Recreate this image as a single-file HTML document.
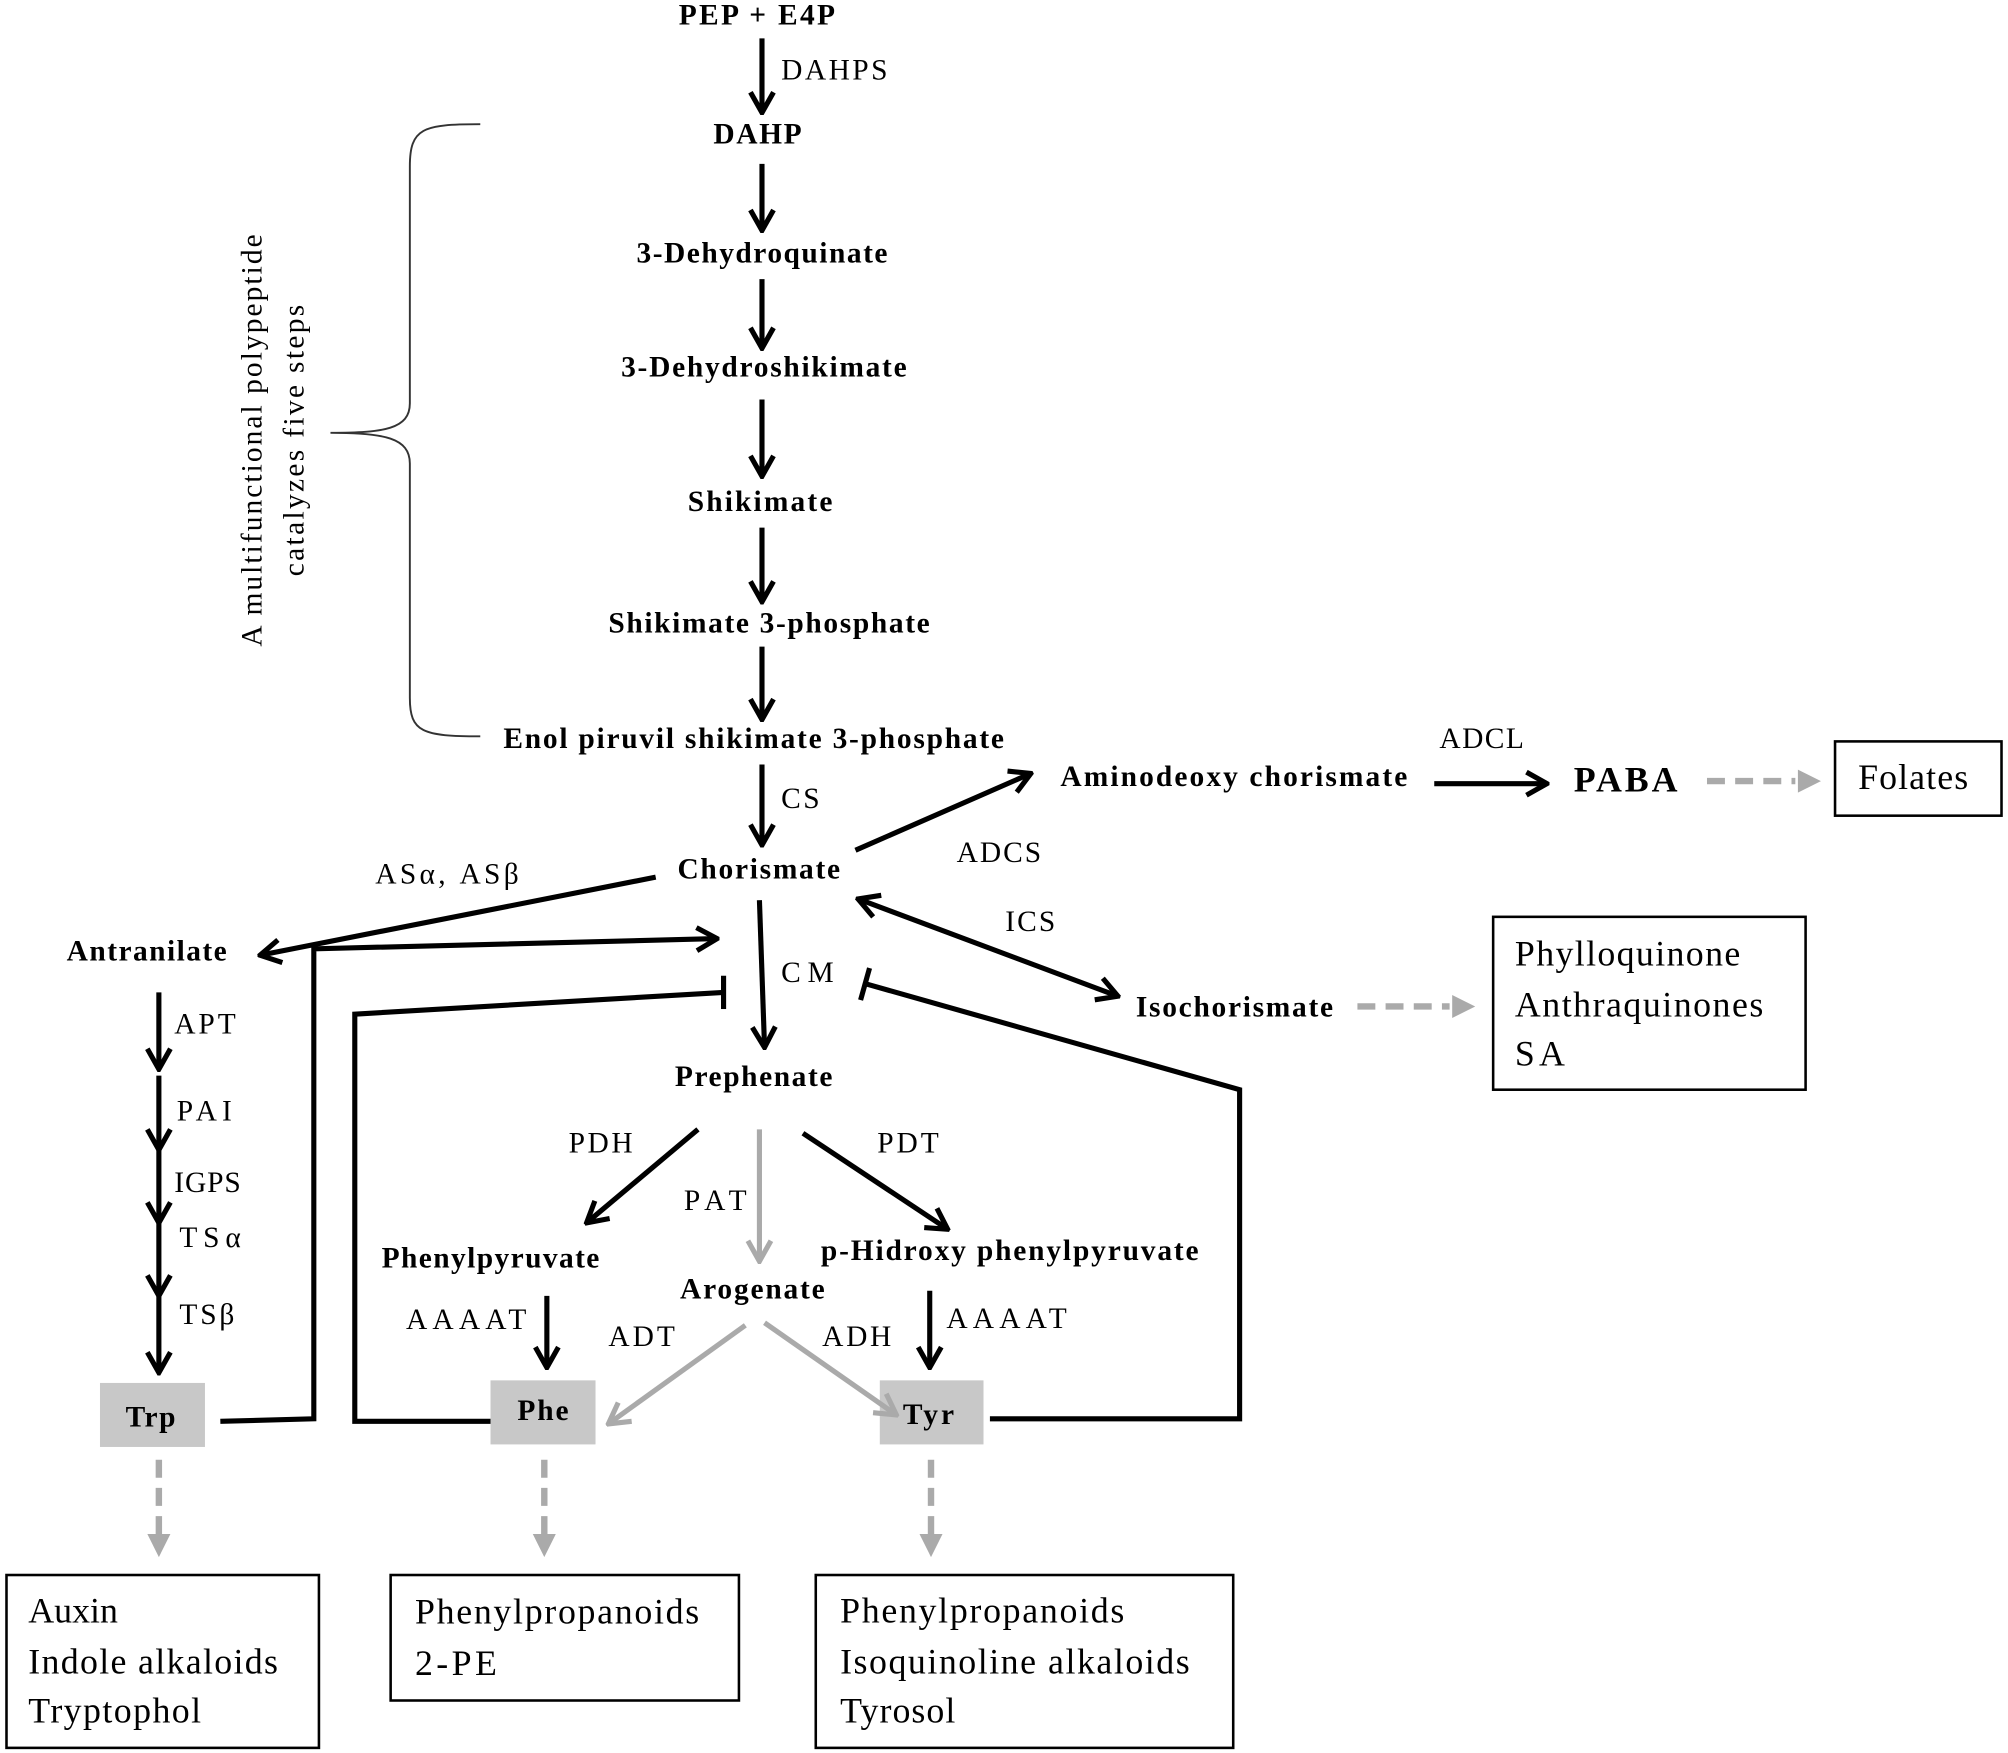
<!DOCTYPE html>
<html><head><meta charset="utf-8"><style>
html,body{margin:0;padding:0;background:#fff;}
svg{display:block;}
.m{font-family:"Liberation Serif",serif;font-weight:bold;font-size:23px;fill:#000;}
.e{font-family:"Liberation Serif",serif;font-size:23px;fill:#000;}
.b{font-family:"Liberation Serif",serif;font-size:28px;fill:#000;}
</style></head><body>
<svg width="2008" height="1753" viewBox="0 0 1568 1369" xmlns="http://www.w3.org/2000/svg">
<defs>
<marker id="ab" markerWidth="22" markerHeight="22" refX="20" refY="11" orient="auto-start-reverse" markerUnits="userSpaceOnUse" viewBox="0 0 22 22"><path d="M4,2 L20,11 L4,20" fill="none" stroke="#000" stroke-width="4"/></marker>
<marker id="g" markerWidth="22" markerHeight="22" refX="20" refY="11" orient="auto" markerUnits="userSpaceOnUse" viewBox="0 0 22 22"><path d="M4,2 L20,11 L4,20" fill="none" stroke="#aaa" stroke-width="4"/></marker>
</defs>
<g stroke="#000" stroke-width="4" fill="none" marker-end="url(#ab)">
<line x1="595" y1="30" x2="595" y2="88"/>
<line x1="595" y1="128" x2="595" y2="180"/>
<line x1="595" y1="218" x2="595" y2="272"/>
<line x1="595" y1="312" x2="595" y2="372"/>
<line x1="595" y1="412" x2="595" y2="470"/>
<line x1="595" y1="505" x2="595" y2="562"/>
<line x1="595" y1="597" x2="595" y2="660"/>
<line x1="668" y1="664" x2="805" y2="604"/>
<line x1="1120" y1="612" x2="1208" y2="612"/>
<line x1="512" y1="685" x2="203" y2="746"/>
<line x1="670" y1="702" x2="873" y2="778" marker-start="url(#ab)"/>
<polyline points="172,1110 245,1108 245,741 560,733"/>
<line x1="593" y1="703" x2="597" y2="818"/>
<line x1="124" y1="775" x2="124" y2="835"/>
<line x1="124" y1="840" x2="124" y2="898"/>
<line x1="124" y1="898" x2="124" y2="955"/>
<line x1="124" y1="955" x2="124" y2="1012"/>
<line x1="124" y1="1012" x2="124" y2="1072"/>
<line x1="545" y1="882" x2="458" y2="955"/>
<line x1="627" y1="885" x2="740" y2="960"/>
<line x1="427" y1="1012" x2="427" y2="1068"/>
<line x1="726" y1="1008" x2="726" y2="1068"/>
</g>
<g stroke="#000" stroke-width="4" fill="none">
<polyline points="383,1110 277,1110 277,792 565,775"/>
<line x1="565" y1="762" x2="565" y2="788"/>
<polyline points="773,1108 968,1108 968,851 675,768"/>
<line x1="679" y1="756" x2="672" y2="781"/>
</g>
<rect x="78" y="1080" width="82" height="50" fill="#c8c8c8"/>
<rect x="383" y="1078" width="82" height="50" fill="#c8c8c8"/>
<rect x="687" y="1078" width="81" height="50" fill="#c8c8c8"/>
<g stroke="#aaa" stroke-width="4" fill="none">
<line x1="593" y1="882" x2="593" y2="985" marker-end="url(#g)"/>
<line x1="582" y1="1035" x2="475" y2="1112" marker-end="url(#g)"/>
<line x1="597" y1="1033" x2="700" y2="1105" marker-end="url(#g)"/>
</g>
<g stroke="#aaa" stroke-width="5" fill="none" stroke-dasharray="14,8">
<line x1="1333" y1="610" x2="1402" y2="610"/>
<line x1="1060" y1="786" x2="1132" y2="786"/>
<line x1="124" y1="1140" x2="124" y2="1198"/>
<line x1="425" y1="1140" x2="425" y2="1198"/>
<line x1="727" y1="1140" x2="727" y2="1198"/>
</g>
<g fill="#aaa">
<path d="M1404,601 L1422,610 L1404,619 Z"/>
<path d="M1134,777 L1152,786 L1134,795 Z"/>
<path d="M115,1198 L124,1216 L133,1198 Z"/>
<path d="M416,1198 L425,1216 L434,1198 Z"/>
<path d="M718,1198 L727,1216 L736,1198 Z"/>
</g>
<path d="M375,97 C330,97 320,100 320,130 L320,315 C320,335 300,338 258,338 C300,338 320,342 320,362 L320,545 C320,572 330,575 375,575" stroke="#333" stroke-width="1.5" fill="none"/>
<text class="e" transform="translate(204,505) rotate(-90)" textLength="322" lengthAdjust="spacing">A multifunctional polypeptide</text>
<text class="e" transform="translate(237,450) rotate(-90)" textLength="212" lengthAdjust="spacing">catalyzes five steps</text>
<g lengthAdjust="spacing">
<text class="m" x="530" y="19" textLength="122">PEP + E4P</text>
<text class="e" x="610" y="62" textLength="83">DAHPS</text>
<text class="m" x="557" y="112" textLength="69">DAHP</text>
<text class="m" x="497" y="205" textLength="196">3-Dehydroquinate</text>
<text class="m" x="485" y="294" textLength="223">3-Dehydroshikimate</text>
<text class="m" x="537" y="399" textLength="113">Shikimate</text>
<text class="m" x="475" y="494" textLength="251">Shikimate 3-phosphate</text>
<text class="m" x="393" y="584" textLength="391">Enol piruvil shikimate 3-phosphate</text>
<text class="e" x="610" y="631" textLength="30">CS</text>
<text class="m" x="529" y="686" textLength="127">Chorismate</text>
<text class="m" x="828" y="614" textLength="271">Aminodeoxy chorismate</text>
<text class="e" x="1124" y="584" textLength="66">ADCL</text>
<text class="m" x="1229" y="618" style="font-size:28px" textLength="81">PABA</text>
<rect x="1433" y="579" width="130" height="58" fill="none" stroke="#000" stroke-width="2"/>
<text class="b" x="1451" y="616" textLength="86">Folates</text>
<text class="e" x="747" y="673" textLength="66">ADCS</text>
<text class="e" x="785" y="727" textLength="39">ICS</text>
<text class="m" x="887" y="794" textLength="154">Isochorismate</text>
<rect x="1166" y="716" width="244" height="135" fill="none" stroke="#000" stroke-width="2"/>
<text class="b" x="1183" y="754" textLength="176">Phylloquinone</text>
<text class="b" x="1183" y="794" textLength="194">Anthraquinones</text>
<text class="b" x="1183" y="832" textLength="39">SA</text>
<text class="e" x="293" y="690" textLength="112">ASα, ASβ</text>
<text class="m" x="52" y="750" textLength="125">Antranilate</text>
<text class="e" x="610" y="767" textLength="41">CM</text>
<text class="m" x="527" y="848" textLength="123">Prephenate</text>
<text class="e" x="136" y="807" textLength="48">APT</text>
<text class="e" x="138" y="875" textLength="43">PAI</text>
<text class="e" x="136" y="931" textLength="52">IGPS</text>
<text class="e" x="140" y="974" textLength="48">TSα</text>
<text class="e" x="140" y="1034" textLength="43">TSβ</text>
<text class="e" x="444" y="900" textLength="50">PDH</text>
<text class="e" x="685" y="900" textLength="48">PDT</text>
<text class="e" x="534" y="945" textLength="49">PAT</text>
<text class="m" x="298" y="990" textLength="170">Phenylpyruvate</text>
<text class="m" x="641" y="984" textLength="295">p-Hidroxy phenylpyruvate</text>
<text class="m" x="531" y="1014" textLength="113">Arogenate</text>
<text class="e" x="317" y="1038" textLength="94">AAAAT</text>
<text class="e" x="739" y="1037" textLength="94">AAAAT</text>
<text class="e" x="475" y="1051" textLength="52">ADT</text>
<text class="e" x="642" y="1051" textLength="54">ADH</text>
<text class="m" x="98" y="1114" textLength="39">Trp</text>
<text class="m" x="404" y="1109" textLength="40">Phe</text>
<text class="m" x="705" y="1112" textLength="40">Tyr</text>
<rect x="5" y="1230" width="244" height="135" fill="none" stroke="#000" stroke-width="2"/>
<text class="b" x="22" y="1267" textLength="70">Auxin</text>
<text class="b" x="22" y="1307" textLength="195">Indole alkaloids</text>
<text class="b" x="22" y="1345" textLength="135">Tryptophol</text>
<rect x="305" y="1230" width="272" height="98" fill="none" stroke="#000" stroke-width="2"/>
<text class="b" x="324" y="1268" textLength="222">Phenylpropanoids</text>
<text class="b" x="324" y="1308" textLength="64">2-PE</text>
<rect x="637" y="1230" width="326" height="135" fill="none" stroke="#000" stroke-width="2"/>
<text class="b" x="656" y="1267" textLength="222">Phenylpropanoids</text>
<text class="b" x="656" y="1307" textLength="273">Isoquinoline alkaloids</text>
<text class="b" x="656" y="1345" textLength="90">Tyrosol</text>
</g>
</svg>
</body></html>
